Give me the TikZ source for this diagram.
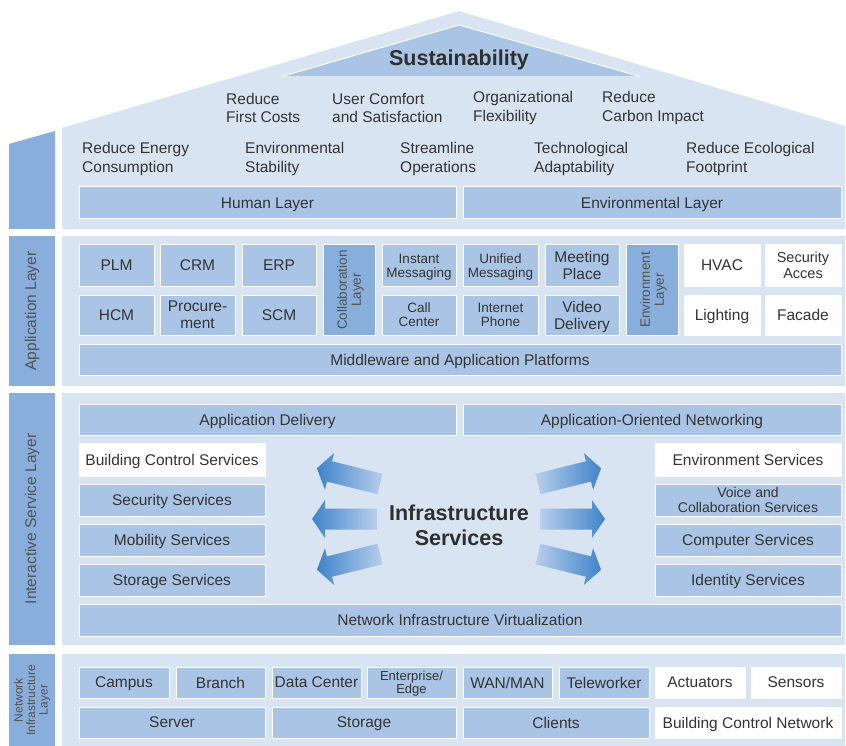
\documentclass[tikz,border=0pt]{standalone}
\usepackage{fontspec}
\setmainfont{Liberation Sans}
\usetikzlibrary{calc}
\definecolor{panel}{RGB}{217,228,243}
\definecolor{boxc}{RGB}{170,196,230}
\definecolor{darkc}{RGB}{136,174,219}
\definecolor{sidec}{RGB}{138,174,220}
\definecolor{txt}{RGB}{52,52,52}
\definecolor{arrdark}{RGB}{64,132,202}
\definecolor{arrlight}{RGB}{184,206,236}
\newcommand\fs[2]{\fontsize{#1}{#2}\selectfont}
\newcommand\bx[7]{\node[#6, minimum width={(#4-#2)*1pt}, minimum height={(#5-#3)*1pt}] (#1) at ({(#2+#4)/2},{(#3+#5)/2}) {#7};}
\newcommand\flowarrow[5]{%
  \coordinate (ft) at (#1,#2);
  \shade[left color=#4, right color=#5]
    ($(ft)+(#3+90:10.5pt)$) -- ($(ft)+(#3:52pt)+(#3+90:10.5pt)$) --
    ($(ft)+(#3:52pt)+(#3+90:19pt)$) -- ($(ft)+(#3:65pt)$) --
    ($(ft)+(#3:52pt)+(#3-90:19pt)$) -- ($(ft)+(#3:52pt)+(#3-90:10.5pt)$) --
    ($(ft)+(#3-90:10.5pt)$) -- cycle;}
\tikzset{
  box/.style={draw=white, line width=1pt, fill=boxc, inner sep=0pt, align=center, text=txt, text depth=0pt, font=\fs{15.5}{17}},
  wbox/.style={box, fill=white},
  dbox/.style={box, fill=darkc, text=txt!85},
  sbox/.style={box, font=\fs{13.5}{14}},
  sidebar/.style={fill=sidec, inner sep=0pt, align=center, text=txt!85, rotate=90, minimum height=46pt, font=\fs{15.5}{17}},
  goal/.style={anchor=west, align=left, inner sep=0pt, text=txt, font=\fs{15.5}{18.5}},
  title/.style={inner sep=0pt, align=center, text=txt!90!black, font=\fs{21.5}{25}\bfseries},
}
\begin{document}
\begin{tikzpicture}[x=1pt, y=-1pt]
\useasboundingbox (0,0) rectangle (846,746);
% roof
\fill[panel] (62,229) -- (62,128) -- (459,11) -- (845,126) -- (845,229) -- cycle;
\fill[sidec] (9,229) -- (9,144) -- (55,131) -- (55,229) -- cycle;
\fill[boxc] (285,76) -- (459,25) -- (637,76) -- cycle;
\draw[white, line width=0.9pt] (282,76.5) -- (459,25) -- (640,76.5);
\node[title] (sust) at (459,60) {Sustainability};
\node[goal] (g1) at (226,108) {Reduce\\First Costs};
\node[goal] (g2) at (332,108) {User Comfort\\and Satisfaction};
\node[goal] (g3) at (473,108) {Organizational\\Flexibility};
\node[goal] (g4) at (602,108) {Reduce\\Carbon Impact};
\node[goal] (g5) at (82,159) {Reduce Energy\\Consumption};
\node[goal] (g6) at (245,159) {Environmental\\Stability};
\node[goal] (g7) at (400,159) {Streamline\\Operations};
\node[goal] (g8) at (534,159) {Technological\\Adaptability};
\node[goal] (g9) at (686,159) {Reduce Ecological\\Footprint};
\bx{human}{79}{187}{456}{219}{box}{Human Layer}
\bx{envl}{463}{187}{841}{219}{box}{Environmental Layer}
% application layer
\fill[panel] (62,236) rectangle (845,386);
\node[sidebar, minimum width=150pt] (appside) at (32,311) {Application Layer};
\bx{plm}{79}{245}{154}{286}{box}{PLM}
\bx{crm}{160}{245}{235}{286}{box}{CRM}
\bx{erp}{242}{245}{316}{286}{box}{ERP}
\bx{hcm}{79}{295}{154}{335}{box}{HCM}
\bx{proc}{160}{295}{235}{335}{box}{Procure-\\ment}
\bx{scm}{242}{295}{316}{335}{box}{SCM}
\node[dbox, rotate=90, minimum width=90pt, minimum height=52pt, font=\fs{13.5}{14}] (collab) at (349,290) {Collaboration\\Layer};
\bx{im}{382}{245}{456}{286}{sbox}{Instant\\Messaging}
\bx{um}{463}{245}{538}{286}{sbox}{Unified\\Messaging}
\bx{mp}{545}{245}{619}{286}{box}{Meeting\\Place}
\bx{cc}{382}{295}{456}{335}{sbox}{Call\\Center}
\bx{ip}{463}{295}{538}{335}{sbox}{Internet\\Phone}
\bx{vd}{545}{295}{619}{335}{box}{Video\\Delivery}
\node[dbox, rotate=90, minimum width=90pt, minimum height=52pt, font=\fs{13.5}{14}] (envlayer) at (652,290) {Environment\\Layer};
\bx{hvac}{684}{245}{760}{286}{wbox}{HVAC}
\bx{secacc}{765}{245}{841}{286}{wbox, font=\fs{14.5}{16}}{Security\\Acces}
\bx{light}{684}{295}{760}{335}{wbox}{Lighting}
\bx{facade}{765}{295}{841}{335}{wbox}{Facade}
\bx{mid}{79}{344}{841}{375}{box}{Middleware and Application Platforms}
% interactive service layer
\fill[panel] (62,393) rectangle (845,645);
\node[sidebar, minimum width=252pt] (intside) at (32,519) {Interactive Service Layer};
\bx{appdel}{79}{404}{456}{435}{box}{Application Delivery}
\bx{aon}{463}{404}{841}{435}{box}{Application-Oriented Networking}
\bx{bcs}{79}{443}{265}{476}{wbox}{Building Control Services}
\bx{secs}{79}{484}{265}{516}{box}{Security Services}
\bx{mobs}{79}{524}{265}{556}{box}{Mobility Services}
\bx{stos}{79}{564}{265}{596}{box}{Storage Services}
\bx{envs}{655}{443}{841}{476}{wbox}{Environment Services}
\bx{vcs}{655}{484}{841}{516}{box, font=\fs{14}{14.5}}{Voice and\\Collaboration Services}
\bx{comps}{655}{524}{841}{556}{box}{Computer Services}
\bx{ids}{655}{564}{841}{596}{box}{Identity Services}
\bx{niv}{79}{604}{841}{636}{box}{Network Infrastructure Virtualization}
\node[title] (infra) at (459,525) {Infrastructure\\Services};
\flowarrow{380}{484}{166}{arrdark}{arrlight}
\flowarrow{377}{519}{180}{arrdark}{arrlight}
\flowarrow{380}{554}{194}{arrdark}{arrlight}
\flowarrow{538}{484}{14}{arrlight}{arrdark}
\flowarrow{540}{519}{0}{arrlight}{arrdark}
\flowarrow{538}{554}{-14}{arrlight}{arrdark}
% network infrastructure layer
\fill[panel] (62,654) rectangle (845,746);
\node[sidebar, minimum width=92pt, font=\fs{12}{12.5}] (netside) at (32,700) {Network\\Infrastructure\\Layer};
\bx{campus}{79}{667}{169}{698}{box}{Campus}
\bx{branch}{176}{667}{265}{698}{box}{Branch}
\bx{dc}{272}{667}{361}{698}{box}{Data Center}
\bx{ee}{367}{667}{456}{698}{box, font=\fs{13}{12}}{Enterprise/\\Edge}
\bx{wan}{463}{667}{552}{698}{box}{WAN/MAN}
\bx{tele}{559}{667}{649}{698}{box}{Teleworker}
\bx{act}{655}{667}{745}{698}{wbox}{Actuators}
\bx{sens}{751}{667}{841}{698}{wbox}{Sensors}
\bx{server}{79}{707}{265}{738}{box}{Server}
\bx{storage}{272}{707}{456}{738}{box}{Storage}
\bx{clients}{463}{707}{649}{738}{box}{Clients}
\bx{bcn}{655}{707}{841}{738}{wbox}{Building Control Network}
\end{tikzpicture}
\end{document}
